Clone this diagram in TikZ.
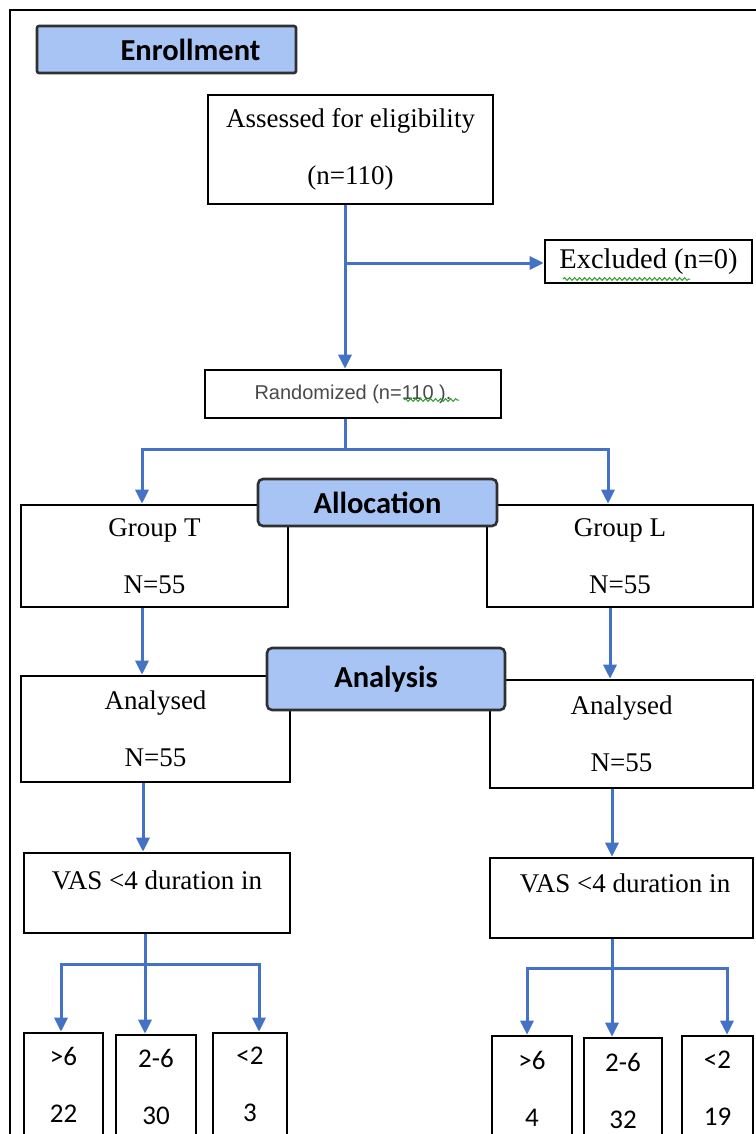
\documentclass[tikz,border=0pt]{standalone}
\usepackage{fontspec}
\setmainfont{Liberation Serif}
\newfontfamily\calib{Carlito}
\newfontfamily\arialfont{Liberation Sans}
\usetikzlibrary{shapes,arrows}
\usetikzlibrary{arrows.meta}
\usetikzlibrary{decorations.pathmorphing}
\definecolor{flowblue}{HTML}{4472C4}
\definecolor{headblue}{HTML}{A8C4F5}
\definecolor{headedge}{HTML}{303030}
\definecolor{spellgreen}{HTML}{2E9E2E}
\definecolor{randgrey}{HTML}{4A4A4A}
\tikzstyle{block} = [rectangle, draw, line width=2.6pt, fill=white, align=center,
    inner sep=0pt, font=\fontsize{27}{57}\selectfont]
\tikzstyle{tally} = [block, font=\calib\fontsize{27}{57}\selectfont]
\tikzstyle{stage} = [rectangle, rounded corners=5pt, draw=headedge, line width=2.6pt,
    fill=headblue, inner sep=0pt, font=\calib\bfseries\fontsize{30.5}{31}\selectfont]
\tikzstyle{line} = [draw, flowblue, line width=3pt, -{Triangle[length=14pt, width=13pt]}]
\tikzstyle{wire} = [draw, flowblue, line width=3pt]
\tikzstyle{squiggle} = [draw, spellgreen, line width=1pt, decorate,
    decoration={snake, amplitude=1.4pt, segment length=5pt}]

\begin{document}
\begin{tikzpicture}[x=1pt, y=-1pt]
      \useasboundingbox (0,0) rectangle (755,1134);
      \draw [line width=1.4pt] (10,1150) -- (10,10) -- (770,10);
      \node [stage, rounded corners=2pt, minimum width=259, minimum height=47] (enr) at (166.5,49.5) {\hspace*{48pt}Enrollment};
      \node [block, minimum width=285, minimum height=109] (ass) at (350.5,149.5) {Assessed for eligibility\\(n=110)};
      \node [block, minimum width=207, minimum height=43, font=\fontsize{28.5}{30}\selectfont] (exc) at (648.5,261.5) {Excluded (n=0)};
      \node [block, minimum width=296, minimum height=48, text=randgrey,
          font=\arialfont\fontsize{20}{22}\selectfont] (ran) at (353,394) {Randomized (n=110 ).};
      \coordinate (j1) at (345,263);
      \coordinate (j2) at (345,449);
      \coordinate (jt) at (142,449);
      \coordinate (jl) at (608,449);
      \path [wire] (ass.south -| j1) -- (j1);
      \path [line] (j1) -- (j1 |- ran.north);
      \path [line] (j1) -- (j1 -| exc.west);
      \path [wire] (ran.south -| j2) -- (j2);
      \node [block, minimum width=267, minimum height=102] (gt) at (154.5,556) {Group T\\N=55};
      \node [block, minimum width=266, minimum height=102] (gl) at (620,556) {Group L\\N=55};
      \path [line] (j2) -| (jt |- gt.north);
      \path [line] (j2) -| (jl |- gl.north);
      \node [stage, minimum width=239, minimum height=47] (alloc) at (377.5,502.5) {Allocation};
      \node [block, minimum width=269, minimum height=106] (ant) at (155.5,729) {Analysed\\N=55};
      \node [block, minimum width=263, minimum height=108] (anl) at (621.5,734) {Analysed\\N=55};
      \coordinate (kt) at (142,0);
      \coordinate (kl) at (610,0);
      \path [line] (gt.south -| kt) -- (kt |- ant.north);
      \path [line] (gl.south -| kl) -- (kl |- anl.north);
      \node [stage, minimum width=238, minimum height=62] (ana) at (386,679) {Analysis};
      \node [block, minimum width=266, minimum height=80] (vt) at (157,893) {};
      \node [font=\fontsize{27}{57}\selectfont] (vtt) at (157,880) {VAS <4 duration in};
      \node [block, minimum width=263, minimum height=80] (vl) at (621.5,898) {};
      \node [font=\fontsize{27}{57}\selectfont] (vlt) at (625,883) {VAS <4 duration in};
      \coordinate (mt) at (143,0);
      \coordinate (ml) at (612,0);
      \path [line] (ant.south -| mt) -- (mt |- vt.north);
      \path [line] (anl.south -| ml) -- (ml |- vl.north);
      \node [tally, minimum width=79, minimum height=103] (t1) at (63.5,1084.5) {>6\\22};
      \node [tally, minimum width=80, minimum height=103] (t2) at (156,1086.5) {2-6\\30};
      \node [tally, minimum width=74, minimum height=103] (t3) at (250,1084.5) {<2\\3};
      \node [tally, minimum width=80, minimum height=105] (l1) at (532,1088.5) {>6\\4};
      \node [tally, minimum width=78, minimum height=105] (l2) at (623,1090.5) {2-6\\32};
      \node [tally, minimum width=71, minimum height=105] (l3) at (717.5,1088.5) {<2\\19};
      \coordinate (bt) at (145,964);
      \coordinate (bt1) at (61,964);
      \coordinate (bt3) at (259,964);
      \coordinate (bl) at (612,968);
      \coordinate (bl1) at (527,968);
      \coordinate (bl3) at (727,968);
      \path [wire] (vt.south -| bt) -- (bt);
      \path [line] (bt) -| (bt1 |- t1.north);
      \path [line] (bt) -- (bt |- t2.north);
      \path [line] (bt) -| (bt3 |- t3.north);
      \path [wire] (vl.south -| bl) -- (bl);
      \path [line] (bl) -| (bl1 |- l1.north);
      \path [line] (bl) -- (bl |- l2.north);
      \path [line] (bl) -| (bl3 |- l3.north);
      \draw [squiggle] (563,279) -- (690,279);
      \draw [squiggle] (404,400) -- (459,400);
  \end{tikzpicture}
\end{document}
